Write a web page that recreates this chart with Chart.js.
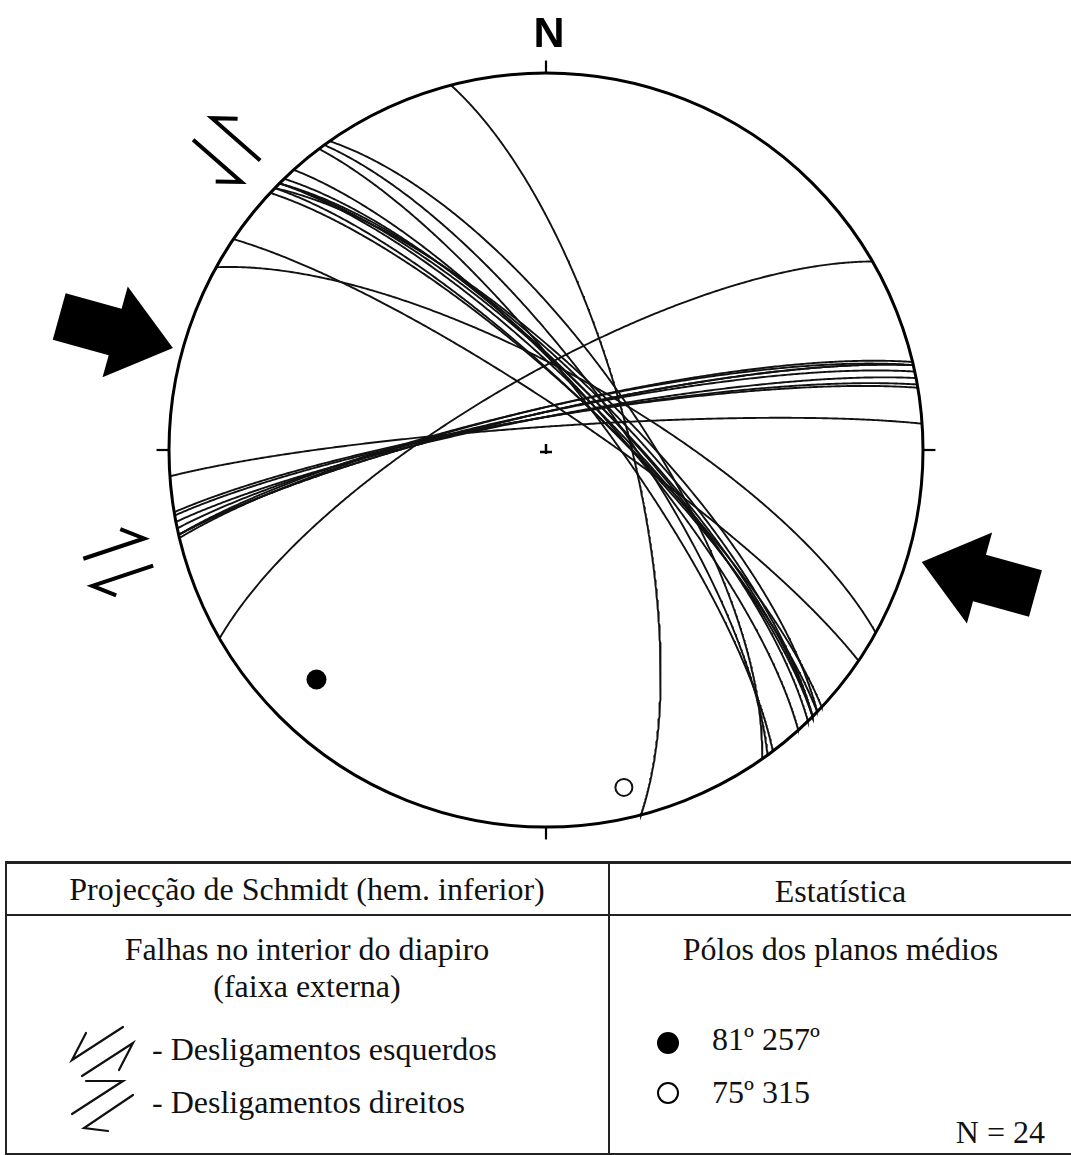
<!DOCTYPE html>
<html>
<head>
<meta charset="utf-8">
<script src="https://cdn.jsdelivr.net/npm/chart.js@4/dist/chart.umd.min.js"></script>
<style>
  html, body { margin: 0; padding: 0; background: #fff; }
  #page { position: relative; width: 1071px; height: 1155px; overflow: hidden; background: #fff; }
  #net { position: absolute; left: 0; top: 0; }
  .north { position: absolute; left: 449px; width: 200px; top: 11px; text-align: center;
           font: bold 43px "Liberation Sans", Arial, sans-serif; line-height: 43px; color: #000; }
  .cell { position: absolute; font-family: "Liberation Serif", "Times New Roman", serif; font-size: 32px;
          line-height: 32px; color: #111; white-space: nowrap; }
  .frame { position: absolute; left: 5px; top: 861px; width: 1090px; height: 289px;
           border: 2px solid #222; border-top-width: 3px; }
  .hline { position: absolute; left: 5px; top: 914px; width: 1090px; height: 2px; background: #222; }
  .vline { position: absolute; left: 608px; top: 861px; width: 2px; height: 292px; background: #222; }
  svg.sym { position: absolute; overflow: visible; }
  .dot { position: absolute; width: 22px; height: 22px; border-radius: 50%; box-sizing: border-box; }
</style>
</head>
<body>
<div id="page">
  <canvas id="net" width="1071" height="850"></canvas>
  <div class="north">N</div>

  <div class="frame"></div>
  <div class="hline"></div>
  <div class="vline"></div>

  <div class="cell" style="left:5px;width:604px;text-align:center;top:873px;">Projecção de Schmidt (hem. inferior)</div>
  <div class="cell" style="left:610px;width:461px;text-align:center;top:875px;">Estatística</div>
  <div class="cell" style="left:5px;width:604px;text-align:center;top:933px;">Falhas no interior do diapiro</div>
  <div class="cell" style="left:5px;width:604px;text-align:center;top:970px;">(faixa externa)</div>
  <div class="cell" style="left:152px;top:1033px;">- Desligamentos esquerdos</div>
  <div class="cell" style="left:152px;top:1086px;">- Desligamentos direitos</div>
  <div class="cell" style="left:610px;width:461px;text-align:center;top:933px;">Pólos dos planos médios</div>
  <div class="cell" style="left:712px;top:1023px;">81º 257º</div>
  <div class="cell" style="left:712px;top:1076px;">75º 315</div>
  <div class="cell" style="left:900px;width:145px;text-align:right;top:1116px;">N = 24</div>

  <div class="dot" style="left:657px;top:1032px;background:#000;"></div>
  <div class="dot" style="left:657px;top:1082px;border:2px solid #000;background:#fff;"></div>

  <!-- shear-sense keys -->
  <svg class="sym" style="left:0;top:0;" width="1" height="1">
    <g fill="none" stroke="#111" stroke-width="2.2" stroke-linecap="round" stroke-linejoin="miter">
      <polyline points="86,1033 72,1060 123,1027"/>
      <polyline points="82,1076 133,1043 119,1070"/>
      <polyline points="86,1081 123,1081 72,1114"/>
      <polyline points="133,1095 84,1128 108,1131"/>
    </g>
  </svg>
</div>

<script>
// Fault planes: dip direction and dip (degrees)
const planeDipDir = [55, 54, 53, 48, 46, 45, 45, 45, 44, 44, 43, 34, 29,
                     356, 350.5, 350, 349, 348, 347, 347, 347, 346.5, 330,
                     75.4];
const planeDip    = [70, 74, 77, 76, 75, 75, 76, 74, 77, 73, 77, 81, 73,
                     85, 83, 83, 83, 82, 82, 81, 82, 81, 74,
                     72];

// Mean planes (strike, dip; right-hand rule) whose poles are plotted
const meanPlaneStrike = [315, 257];
const meanPlaneDip    = [75, 81];

// Shortening direction shown by the large arrows (azimuth, degrees)
const shorteningTrend = 105.5;

const D2R = Math.PI / 180;

// Lambert equal-area (Schmidt) projection, lower hemisphere, unit primitive
function project(trendDeg, plungeDeg) {
  const t = trendDeg * D2R, p = plungeDeg * D2R;
  const r = Math.SQRT2 * Math.sin((Math.PI / 2 - p) / 2);
  return { x: r * Math.sin(t), y: r * Math.cos(t) };
}

// Great circle of a plane given by dip direction / dip
function greatCircle(dipDir, dip) {
  const s = (dipDir - 90) * D2R, d = dipDir * D2R, dp = dip * D2R;
  const sv = [Math.sin(s), Math.cos(s), 0];
  const dv = [Math.cos(dp) * Math.sin(d), Math.cos(dp) * Math.cos(d), Math.sin(dp)];
  const pts = [];
  for (let a = 0; a <= 180; a += 0.5) {
    const c = Math.cos(a * D2R), sn = Math.sin(a * D2R);
    const e = c * sv[0] + sn * dv[0];
    const n = c * sv[1] + sn * dv[1];
    const z = c * sv[2] + sn * dv[2];
    const plunge = Math.asin(Math.max(-1, Math.min(1, z))) / D2R;
    const trend = Math.atan2(e, n) / D2R;
    pts.push(project(trend, plunge));
  }
  return pts;
}

function poleOf(strike, dip) {
  return project((strike + 270) % 360, 90 - dip);
}

const datasets = planeDipDir.map((dd, i) => ({
  type: 'line',
  data: greatCircle(dd, planeDip[i]),
  borderColor: '#111',
  borderWidth: 1.9,
  pointRadius: 0,
  fill: false,
  tension: 0
}));

// filled marker: first mean plane; open marker: second
datasets.push({
  type: 'scatter',
  data: [poleOf(meanPlaneStrike[0], meanPlaneDip[0])],
  pointRadius: 10, pointBackgroundColor: '#000', pointBorderColor: '#000', pointBorderWidth: 0
});
datasets.push({
  type: 'scatter',
  data: [poleOf(meanPlaneStrike[1], meanPlaneDip[1])],
  pointRadius: 8.5, pointBackgroundColor: '#fff', pointBorderColor: '#111', pointBorderWidth: 2
});

// Decorations placed in net units (azimuth, distance in radii)
const arrows = [
  { tipAz: 285.3, tipDist: 1.026, dir: shorteningTrend },
  { tipAz: 106.6, tipDist: 1.040, dir: shorteningTrend + 180 }
];
const shearMarks = [
  { az: 313.2, dist: 1.162, strikeAz: 131.2, sense: 1 },
  { az: 255.3, dist: 1.173, strikeAz: 71.6, sense: -1 }
];

const netFrame = {
  id: 'netFrame',
  afterDatasetsDraw(chart) {
    const { ctx, scales: { x, y } } = chart;
    const cx = x.getPixelForValue(0), cy = y.getPixelForValue(0);
    const R = x.getPixelForValue(1) - cx;
    const at = (az, dist) => [cx + R * dist * Math.sin(az * D2R), cy - R * dist * Math.cos(az * D2R)];
    ctx.save();
    ctx.strokeStyle = '#000';
    ctx.fillStyle = '#000';

    // primitive circle
    ctx.lineWidth = 3;
    ctx.beginPath();
    ctx.arc(cx, cy, R, 0, Math.PI * 2);
    ctx.stroke();

    // cardinal ticks
    ctx.lineWidth = 2.2;
    [0, 90, 180, 270].forEach(az => {
      const a = at(az, 1), b = at(az, 1.033);
      ctx.beginPath(); ctx.moveTo(a[0], a[1]); ctx.lineTo(b[0], b[1]); ctx.stroke();
    });

    // centre cross
    ctx.lineWidth = 2.5;
    ctx.beginPath();
    ctx.moveTo(cx - 6, cy + 2); ctx.lineTo(cx + 6, cy + 2);
    ctx.moveTo(cx, cy - 6); ctx.lineTo(cx, cy + 4);
    ctx.stroke();

    // shortening arrows
    arrows.forEach(a => {
      const [tx, ty] = at(a.tipAz, a.tipDist);
      const ux = Math.sin(a.dir * D2R), uy = -Math.cos(a.dir * D2R);
      const px = -uy, py = ux;
      const L = 0.313 * R, H = 0.159 * R, hw = 0.125 * R, sw = 0.064 * R;
      const P = (u, v) => [tx + ux * u + px * v, ty + uy * u + py * v];
      const pts = [P(0, 0), P(-H, hw), P(-H, sw), P(-L, sw), P(-L, -sw), P(-H, -sw), P(-H, -hw)];
      ctx.beginPath();
      pts.forEach((p, i) => i ? ctx.lineTo(p[0], p[1]) : ctx.moveTo(p[0], p[1]));
      ctx.closePath();
      ctx.fill();
    });

    // shear-sense marks beside the net
    ctx.lineWidth = 4;
    ctx.lineCap = 'butt';
    ctx.lineJoin = 'miter';
    shearMarks.forEach(m => {
      const [mx, my] = at(m.az, m.dist);
      const ux = Math.sin(m.strikeAz * D2R), uy = -Math.cos(m.strikeAz * D2R);
      const px = -uy, py = ux;
      const h = 0.085 * R, g = 0.038 * R, f = 0.068 * R;
      const ca = Math.cos(40 * D2R), sa = Math.sin(40 * D2R);
      const P = (u, v) => [mx + ux * u + px * v, my + uy * u + py * v];
      const s = m.sense;
      const a0 = P(-s * h + s * f * ca, -g - f * sa), a1 = P(-s * h, -g), a2 = P(s * h, -g);
      ctx.beginPath(); ctx.moveTo(a0[0], a0[1]); ctx.lineTo(a1[0], a1[1]); ctx.lineTo(a2[0], a2[1]); ctx.stroke();
      const b0 = P(s * h - s * f * ca, g + f * sa), b1 = P(s * h, g), b2 = P(-s * h, g);
      ctx.beginPath(); ctx.moveTo(b0[0], b0[1]); ctx.lineTo(b1[0], b1[1]); ctx.lineTo(b2[0], b2[1]); ctx.stroke();
    });
    ctx.restore();
  }
};

new Chart(document.getElementById('net'), {
  type: 'scatter',
  data: { datasets },
  options: {
    responsive: false,
    animation: false,
    layout: { padding: { left: 169, right: 148, top: 73, bottom: 23 } },
    scales: {
      x: { type: 'linear', min: -1, max: 1, display: false },
      y: { type: 'linear', min: -1, max: 1, display: false }
    },
    plugins: { legend: { display: false }, tooltip: { enabled: false } },
    elements: { line: { tension: 0 } }
  },
  plugins: [netFrame]
});
</script>
</body>
</html>
